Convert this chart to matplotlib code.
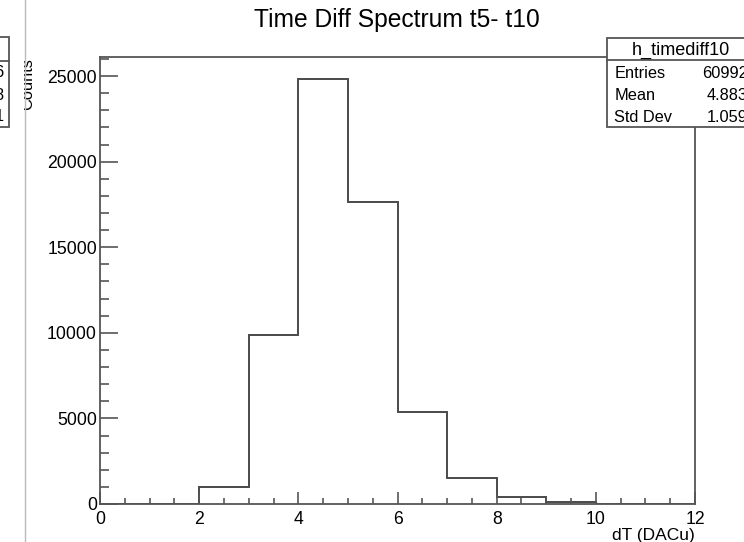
import numpy as np
import matplotlib
matplotlib.use("Agg")
import matplotlib.pyplot as plt
from matplotlib.patches import Rectangle
from matplotlib.lines import Line2D
from matplotlib.ticker import MultipleLocator

plt.rcParams['font.family'] = ['Liberation Sans', 'DejaVu Sans']

# ---- data ----
bin_edges = [0, 1, 2, 3, 4, 5, 6, 7, 8, 9, 10, 11, 12]
counts = [0, 0, 1010, 9850, 24800, 17620, 5370, 1540, 430, 110, 0, 0]
title = "Time Diff Spectrum t5- t10"
x_label = "dT (DACu)"
y_label = "Counts"
hist_name = "h_timediff10"
stat_names = ["Entries", "Mean", "Std Dev"]
stat_values = ["60992", "4.883", "1.059"]
x_ticks = [0, 2, 4, 6, 8, 10, 12]
y_ticks = [0, 5000, 10000, 15000, 20000, 25000]

W, H = 744, 542
fig = plt.figure(figsize=(W / 100, H / 100), dpi=100)

def fx(px):
    return px / W

def fy(py):
    return 1 - py / H

left, right, top, bottom = 100, 695, 57, 504
ax = fig.add_axes([fx(left), fy(bottom), (right - left) / W, (bottom - top) / H])

frame_col = '#555555'
ax.stairs(counts, bin_edges, color='#4a4a4a', lw=1.4, baseline=0, fill=False)
ax.set_xlim(0, 12)
ax.set_ylim(0, max(counts) * 1.053)

for s in ax.spines.values():
    s.set_color(frame_col)
    s.set_linewidth(1.3)

ax.xaxis.set_major_locator(MultipleLocator(2))
ax.xaxis.set_minor_locator(MultipleLocator(0.5))
ax.yaxis.set_major_locator(MultipleLocator(5000))
ax.yaxis.set_minor_locator(MultipleLocator(1000))
ax.set_xticks(x_ticks)
ax.set_yticks(y_ticks)
ax.set_xticklabels([str(t) for t in x_ticks])
ax.set_yticklabels([str(t) for t in y_ticks])
ax.tick_params(axis='x', which='major', direction='in', length=8.6, width=1.2,
               color=frame_col, labelsize=12.7, pad=5.0, top=False)
ax.tick_params(axis='x', which='minor', direction='in', length=4.3, width=1.2,
               color=frame_col, top=False)
ax.tick_params(axis='y', which='major', direction='in', length=13, width=1.2,
               color=frame_col, labelsize=12.7, pad=2.2, right=False)
ax.tick_params(axis='y', which='minor', direction='in', length=6.5, width=1.2,
               color=frame_col, right=False)

# title and axis label
fig.text(fx(396.5), fy(27.3), title, ha='center', va='baseline', fontsize=17.7)
fig.text(fx(695), fy(540), x_label, ha='right', va='baseline', fontsize=12.5)
fig.text(fx(35.5), fy(58), y_label, rotation=90, ha='right', va='top', fontsize=11.8)

# stats box
box = Rectangle((fx(606.7), fy(127)), fx(790) - fx(606.7), fy(38) - fy(127),
                transform=fig.transFigure, facecolor='white', edgecolor=frame_col,
                lw=1.3, zorder=5, clip_on=False)
fig.add_artist(box)
fig.add_artist(Line2D([fx(606.7), fx(790)], [fy(60), fy(60)], transform=fig.transFigure,
                      color=frame_col, lw=1.3, zorder=6))
fig.text(fx(680.7), fy(55), hist_name, ha='center', va='baseline', fontsize=13, zorder=7)
for i, (nm, val) in enumerate(zip(stat_names, stat_values)):
    yb = [78.3, 100, 121.7][i]
    fig.text(fx(614.3), fy(yb), nm, ha='left', va='baseline', fontsize=11.8, zorder=7)
    fig.text(fx(748), fy(yb), val, ha='right', va='baseline', fontsize=11.8, zorder=7)

# left neighbouring panel (cut off)
fig.add_artist(Rectangle((0, 0), fx(24.3), 1, transform=fig.transFigure,
                         facecolor='white', edgecolor='none', zorder=8))
fig.add_artist(Line2D([fx(24.5), fx(24.5)], [0, 1], transform=fig.transFigure,
                      color='#bbbbbb', lw=1.0, zorder=9))
fig.add_artist(Rectangle((fx(-60), fy(127)), fx(9.3) - fx(-60), fy(37) - fy(127),
                         transform=fig.transFigure, facecolor='white',
                         edgecolor=frame_col, lw=1.3, zorder=9))
fig.add_artist(Line2D([fx(-60), fx(9.3)], [fy(61), fy(61)], transform=fig.transFigure,
                      color=frame_col, lw=1.3, zorder=10))
for ch, yb in zip(["6", "8", "1"], [77, 100, 121]):
    fig.text(fx(3.5), fy(yb), ch, ha='right', va='baseline', fontsize=11.8, zorder=10)

fig.savefig("out.png", dpi=100)
